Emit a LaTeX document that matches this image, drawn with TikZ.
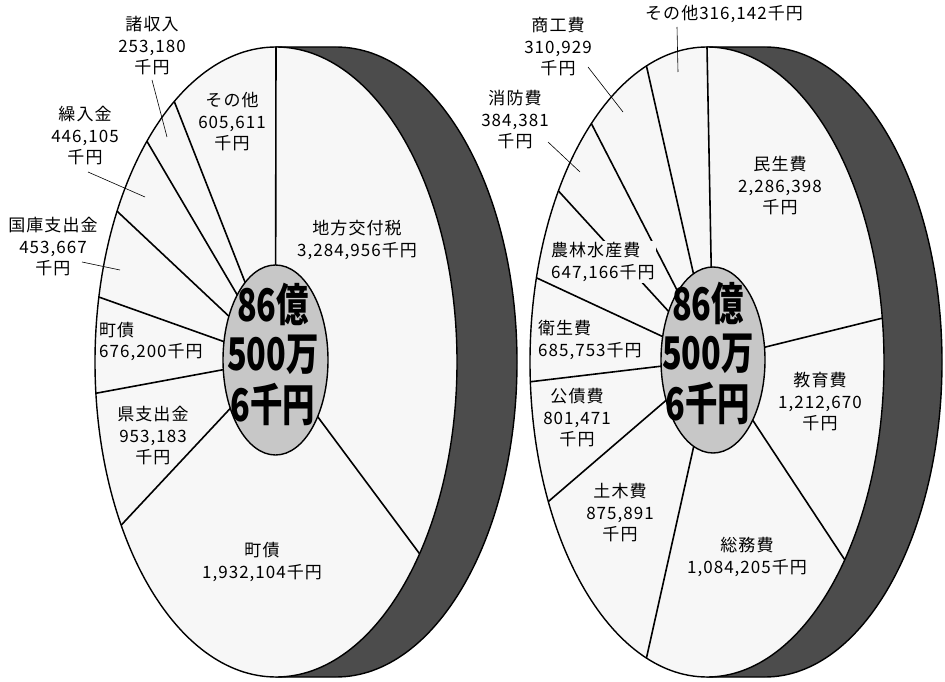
\documentclass[tikz,border=0pt]{standalone}
\usepackage{fontspec}
\usepackage{graphicx}
\newfontfamily\cjk{Noto Sans CJK JP}[LetterSpace=6]
\newfontfamily\cjkc{Noto Sans CJK JP}
\usetikzlibrary{calc}
\newcommand{\bigtotal}{\scalebox{0.72}[1]{\cjkc\bfseries\fontsize{45}{44}\selectfont\begin{tabular}{@{}c@{}}86億\\500万\\6千円\end{tabular}}}
\tikzset{
  side/.style={fill=black!70, draw=black, line width=1.4pt},
  face/.style={fill=black!3, draw=black, line width=1.4pt},
  hub/.style={fill=black!22, draw=black, line width=1.4pt},
  divline/.style={draw=black, line width=1.6pt},
  lead/.style={draw=black, line width=0.6pt},
  lbl/.style={font=\cjk\fontsize{17}{21.5}\selectfont, align=center, inner sep=0pt},
  lbll/.style={lbl, align=left, anchor=west},
}
\begin{document}
\begin{tikzpicture}[x=1pt,y=1pt]
\useasboundingbox (0,0) rectangle (945,681);
\fill[white] (0,0) rectangle (945,681);

% ---------------- left pie ----------------
\coordinate (L) at (276,319);
\coordinate (Lh) at (275.5,321);
\filldraw[side] ($(L)+(0,315)$) -- ($(L)+(60,315)$)
  arc[start angle=90,end angle=-90,x radius=181,y radius=315]
  -- ($(L)+(0,-315)$) -- cycle;
\filldraw[face] (L) ellipse[x radius=181, y radius=315];
\foreach \t [count=\i] in {90,124.2,135.5,151.4,168.1,185.7,211.2,322.5}{
  \coordinate (Lo\i) at ($(L)+(\t:181 and 315)$);
  \draw[divline] (Lo\i) -- (Lh);
}
\filldraw[hub] (Lh) ellipse[x radius=52.5, y radius=95];
\node (Ltot) at (273,322) {\bigtotal};

\node[lbl] (l1) at (357,441) {地方交付税\\3,284,956千円};
\node[lbl] (l2) at (232,559) {その他\\605,611\\千円};
\node[lbl] (l3) at (152,635) {諸収入\\253,180\\千円};
\node[lbl] (l4) at (85,545) {繰入金\\446,105\\千円};
\node[lbl] (l5) at (53,434) {国庫支出金\\453,667\\千円};
\node[lbll] (l6) at (99,339.5) {町債\\676,200千円};
\node[lbl] (l7) at (153,245) {県支出金\\953,183\\千円};
\node[lbl] (l8) at (262,119) {町債\\1,932,104千円};

\coordinate (a3) at (152,601); \coordinate (b3) at (167,544);
\coordinate (a4) at (88,509);  \coordinate (b4) at (145,484);
\coordinate (a5) at (82,419);  \coordinate (b5) at (120,411);
\draw[lead] (a3) -- (b3);
\draw[lead] (a4) -- (b4);
\draw[lead] (a5) -- (b5);

% ---------------- right pie ----------------
\coordinate (R) at (707,319);
\coordinate (Rh) at (713,321);
\filldraw[side] ($(R)+(0,315)$) -- ($(R)+(58,315)$)
  arc[start angle=90,end angle=-90,x radius=177,y radius=315]
  -- ($(R)+(0,-315)$) -- cycle;
\filldraw[face] (R) ellipse[x radius=177, y radius=315];
\foreach \t [count=\i] in {90,110,130.8,147.1,164.5,183.6,206.3,250,321.1,8}{
  \coordinate (Ro\i) at ($(R)+(\t:177 and 315)$);
  \draw[divline] (Ro\i) -- (Rh);
}
\node[lbll, fill=black!3, inner sep=1pt] (r5) at (550,419) {農林水産費\\647,166千円};
\filldraw[hub] (Rh) ellipse[x radius=52, y radius=93];
\node (Rtot) at (708,323) {\bigtotal};

\node[lbl] (r1) at (724,667) {その他316,142千円};
\node[lbl] (r2) at (558,634) {商工費\\310,929\\千円};
\node[lbl] (r3) at (515,561) {消防費\\384,381\\千円};
\node[lbl] (r4) at (780,495) {民生費\\2,286,398\\千円};
\node[lbll] (r6) at (538,341) {衛生費\\685,753千円};
\node[lbl] (r7) at (577,263) {公債費\\801,471\\千円};
\node[lbl] (r8) at (620,168) {土木費\\875,891\\千円};
\node[lbl] (r9) at (747,124) {総務費\\1,084,205千円};
\node[lbl] (r10) at (820,279) {教育費\\1,212,670\\千円};

\coordinate (c1) at (677,654); \coordinate (d1) at (678,609);
\coordinate (c2) at (588,614); \coordinate (d2) at (623,569);
\coordinate (c3) at (548,539); \coordinate (d3) at (580,509);
\draw[lead] (c1) -- (d1);
\draw[lead] (c2) -- (d2);
\draw[lead] (c3) -- (d3);
\end{tikzpicture}
\end{document}
